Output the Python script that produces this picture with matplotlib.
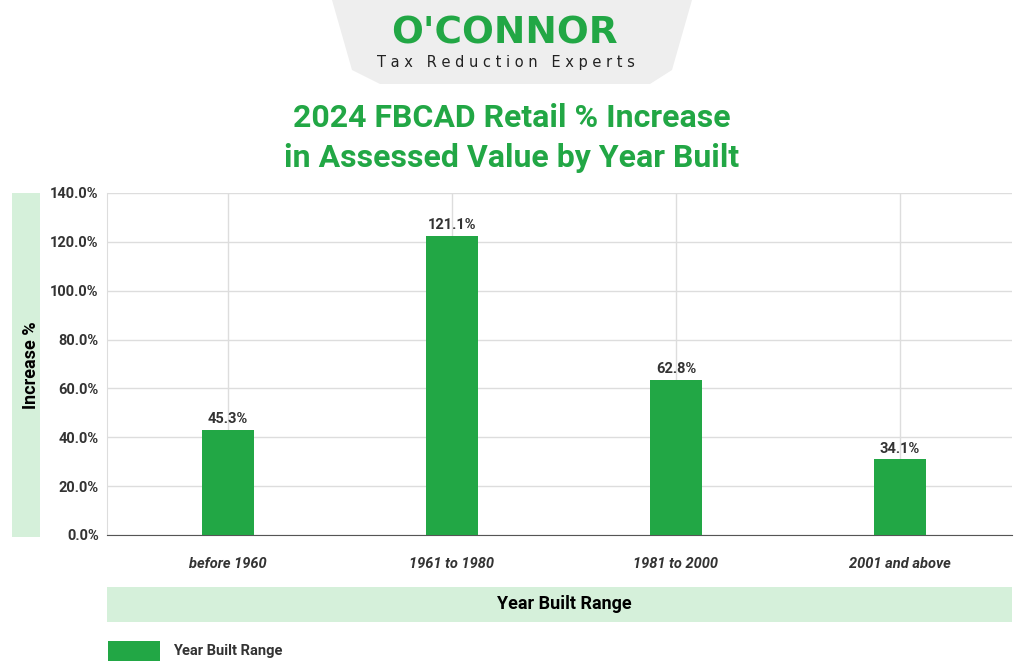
import matplotlib
matplotlib.use("Agg")
import matplotlib.pyplot as plt
from matplotlib.patches import Rectangle, Polygon

categories = ["before 1960", "1961 to 1980", "1981 to 2000", "2001 and above"]
bar_heights = [43.0, 122.6, 63.5, 31.0]
bar_labels = ["45.3%", "121.1%", "62.8%", "34.1%"]
yticks = [0, 20, 40, 60, 80, 100, 120, 140]

GREEN = "#22a745"
LIGHT = "#d5f0da"
W, H = 1024, 672
fig = plt.figure(figsize=(W/100, H/100), dpi=100)
fig.patch.set_facecolor("white")

def fx(px): return px / W
def fy(py): return 1 - py / H

bg = fig.add_axes([0, 0, 1, 1], zorder=0)
bg.set_xlim(0, W); bg.set_ylim(H, 0); bg.axis("off")
bg.add_patch(Polygon([(332, 0), (692, 0), (672, 70), (650, 84), (380, 84), (352, 70)],
                     closed=True, facecolor="#eeeeee", edgecolor="none"))
bg.text(504, 33, "O'CONNOR", color=GREEN, fontsize=27, fontweight="heavy",
        ha="center", va="center", family="DejaVu Sans")
bg.text(506, 62, "T a x   R e d u c t i o n   E x p e r t s", color="#222222", fontsize=10.5,
        ha="center", va="center")
bg.text(512, 118, "2024 FBCAD Retail % Increase", color=GREEN, fontsize=23, fontweight="bold",
        ha="center", va="center", family="Roboto")
bg.text(512, 158, "in Assessed Value by Year Built", color=GREEN, fontsize=23, fontweight="bold",
        ha="center", va="center", family="Roboto")
bg.add_patch(Rectangle((12, 193), 28, 344, facecolor=LIGHT, edgecolor="none"))
bg.text(31, 365, "Increase %", rotation=90, fontsize=13, fontweight="bold", ha="center", va="center", family="Roboto")
bg.add_patch(Rectangle((107, 587), 905, 35, facecolor=LIGHT, edgecolor="none"))
bg.text(564, 604, "Year Built Range", fontsize=13, fontweight="bold", ha="center", va="center", family="Roboto")
bg.add_patch(Rectangle((108, 641), 52, 20, facecolor=GREEN, edgecolor="none"))
bg.text(173, 651, "Year Built Range", fontsize=10.5, fontweight="bold", ha="left", va="center",
        color="#333333", family="Roboto")

ax = fig.add_axes([fx(107), fy(535), fx(1012) - fx(107), fy(193) - fy(535)], zorder=1)
ax.patch.set_alpha(0)
x = range(len(categories))
ax.bar(x, bar_heights, width=0.23, color=GREEN, zorder=3)
for i, (h, t) in enumerate(zip(bar_heights, bar_labels)):
    ax.text(i, h + 1.5, t, ha="center", va="bottom", fontsize=10.5, fontweight="bold", color="#333333", family="Roboto")
ax.set_xlim(-0.54, 3.5)
ax.set_ylim(0, 140)
ax.set_yticks(yticks)
ax.set_yticklabels([f"{v:.1f}%" for v in yticks], fontsize=10.5, fontweight="bold", color="#333333", family="Roboto")
ax.set_xticks(list(x))
ax.set_xticklabels(categories, fontsize=10.5, fontweight="bold", style="italic", color="#333333", family="Roboto")
ax.tick_params(length=0, pad=6)
ax.tick_params(axis="x", pad=16)
ax.grid(True, color="#dddddd", linewidth=1, zorder=0)
for s in ["top", "right"]:
    ax.spines[s].set_visible(False)
ax.spines["left"].set_color("#dddddd")
ax.spines["bottom"].set_color("#555555")
fig.savefig("out.png", dpi=100)
